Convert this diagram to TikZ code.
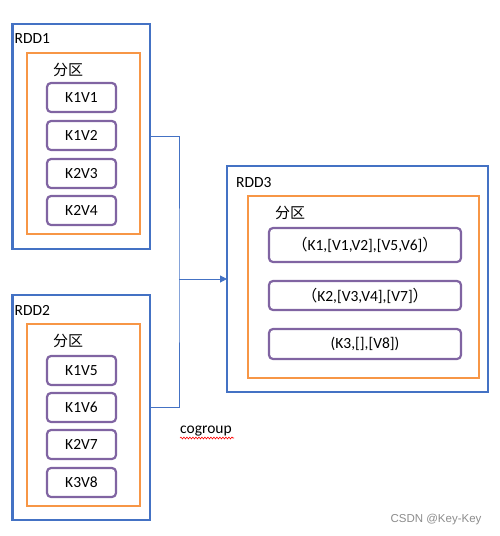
\documentclass[tikz,border=0pt]{standalone}
\usepackage{fontspec}
\setmainfont{Carlito}
\newfontfamily\cjk{Noto Sans CJK SC}
\newfontfamily\wm{Liberation Sans}
\usetikzlibrary{arrows.meta,decorations.pathmorphing}
\definecolor{rddblue}{HTML}{4472C4}
\definecolor{partorange}{HTML}{F79646}
\definecolor{kvpurple}{HTML}{8064A2}
\tikzset{
  rddbox/.style={draw=rddblue, line width=2.3pt, inner sep=0pt, outer sep=0pt, anchor=north west},
  partbox/.style={draw=partorange, line width=2.3pt, inner sep=0pt, outer sep=0pt, anchor=north west},
  kvbox/.style={draw=kvpurple, line width=2.2pt, rounded corners=4pt, inner sep=0pt, outer sep=0pt, anchor=north west, font=\fontsize{15.5}{17}\selectfont},
  lbl/.style={anchor=west, inner sep=0pt, font=\fontsize{15.5}{17}\selectfont},
  plbl/.style={inner sep=0pt, font=\cjk\fontsize{15}{17}\selectfont},
  conn/.style={draw=rddblue, line width=1pt},
}
\begin{document}
\begin{tikzpicture}[x=1pt,y=-1pt]
\useasboundingbox (0,0) rectangle (499,536);
% RDD1
\node[rddbox, minimum width=137.5pt, minimum height=225pt] (rdd1) at (12.5,24) {};
\node[lbl] (rdd1l) at (14.5,39) {RDD1};
\node[partbox, minimum width=113pt, minimum height=181pt] (p1) at (27,53) {};
\node[plbl] (p1l) at (68,70) {分区};
\node[kvbox, minimum width=69pt, minimum height=29pt] (a1) at (47,83) {K1V1};
\node[kvbox, minimum width=69pt, minimum height=29pt] (a2) at (47,121) {K1V2};
\node[kvbox, minimum width=69pt, minimum height=29pt] (a3) at (47,159) {K2V3};
\node[kvbox, minimum width=69pt, minimum height=29pt] (a4) at (47,196) {K2V4};
% RDD2
\node[rddbox, minimum width=137.5pt, minimum height=225pt] (rdd2) at (12.5,295) {};
\node[lbl] (rdd2l) at (14.5,310) {RDD2};
\node[partbox, minimum width=113pt, minimum height=182pt] (p2) at (27,324) {};
\node[plbl] (p2l) at (68,341) {分区};
\node[kvbox, minimum width=69pt, minimum height=29pt] (b1) at (47,356) {K1V5};
\node[kvbox, minimum width=69pt, minimum height=29pt] (b2) at (47,393) {K1V6};
\node[kvbox, minimum width=69pt, minimum height=29pt] (b3) at (47,430) {K2V7};
\node[kvbox, minimum width=69pt, minimum height=29pt] (b4) at (47,468) {K3V8};
% RDD3
\node[rddbox, minimum width=261pt, minimum height=226pt] (rdd3) at (227,166) {};
\node[lbl] (rdd3l) at (236,183) {RDD3};
\node[partbox, minimum width=231pt, minimum height=182pt] (p3) at (248,196) {};
\node[plbl] (p3l) at (290,213) {分区};
\node[kvbox, minimum width=192pt, minimum height=34pt] (c1) at (269,228) {{\cjk （}K1,[V1,V2],[V5,V6]{\cjk ）}};
\node[kvbox, minimum width=192pt, minimum height=29pt] (c2) at (269,281) {{\cjk （}K2,[V3,V4],[V7]{\cjk ）}};
\node[kvbox, minimum width=192pt, minimum height=30pt] (c3) at (269,329) {(K3,[],[V8])};
% connectors
\coordinate (j) at (179,279);
\draw[conn] (rdd1.east) -| (j) |- (rdd2.east);
\draw[conn, -{Triangle[length=7pt,width=7pt]}] (j) -- (rdd3.west);
% cogroup label
\node[lbl] (cg) at (180,431) {cogroup};
\coordinate (sq1) at (180,438);
\coordinate (sq2) at (234,438);
\draw[red, line width=0.6pt, decorate, decoration={snake, segment length=3pt, amplitude=0.9pt}] (sq1) -- (sq2);
% watermark
\node[inner sep=0pt, text=black!45, font=\wm\fontsize{11.5}{13}\selectfont] (wm) at (436,520) {CSDN @Key-Key};
\end{tikzpicture}
\end{document}
